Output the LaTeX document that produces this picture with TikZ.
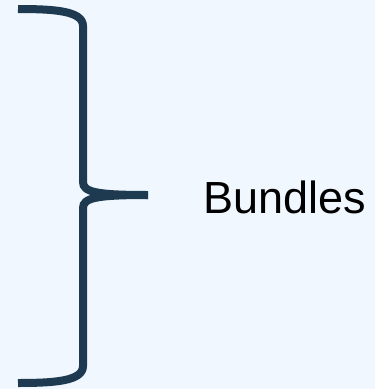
\documentclass[tikz,border=0pt]{standalone}
\usepackage{fontspec}
\setmainfont{Liberation Sans}
\definecolor{bgc}{HTML}{F1F7FE}
\definecolor{bracec}{HTML}{1D3A50}
\begin{document}
\begin{tikzpicture}[x=1pt,y=-1pt,
  bracestyle/.style={draw=bracec,line width=8pt,line cap=butt},
  labelstyle/.style={anchor=base west,inner sep=0pt,font=\fontsize{45}{54}\selectfont,text=black}]
\fill[bgc] (0,0) rectangle (375,389);
\useasboundingbox (0,0) rectangle (375,389);
\coordinate (top) at (18,9);
\coordinate (tip) at (148,195);
\coordinate (bot) at (18,383);
\draw[bracestyle] (top) .. controls (55,9) and (83,11) .. (83,26) -- (83,182)
  .. controls (83,192) and (96,195) .. (tip);
\draw[bracestyle] (tip) .. controls (96,195) and (83,198) .. (83,208) -- (83,366)
  .. controls (83,381) and (55,383) .. (bot);
\node[labelstyle] (lbl) at (203,213) {Bundles};
\end{tikzpicture}
\end{document}
